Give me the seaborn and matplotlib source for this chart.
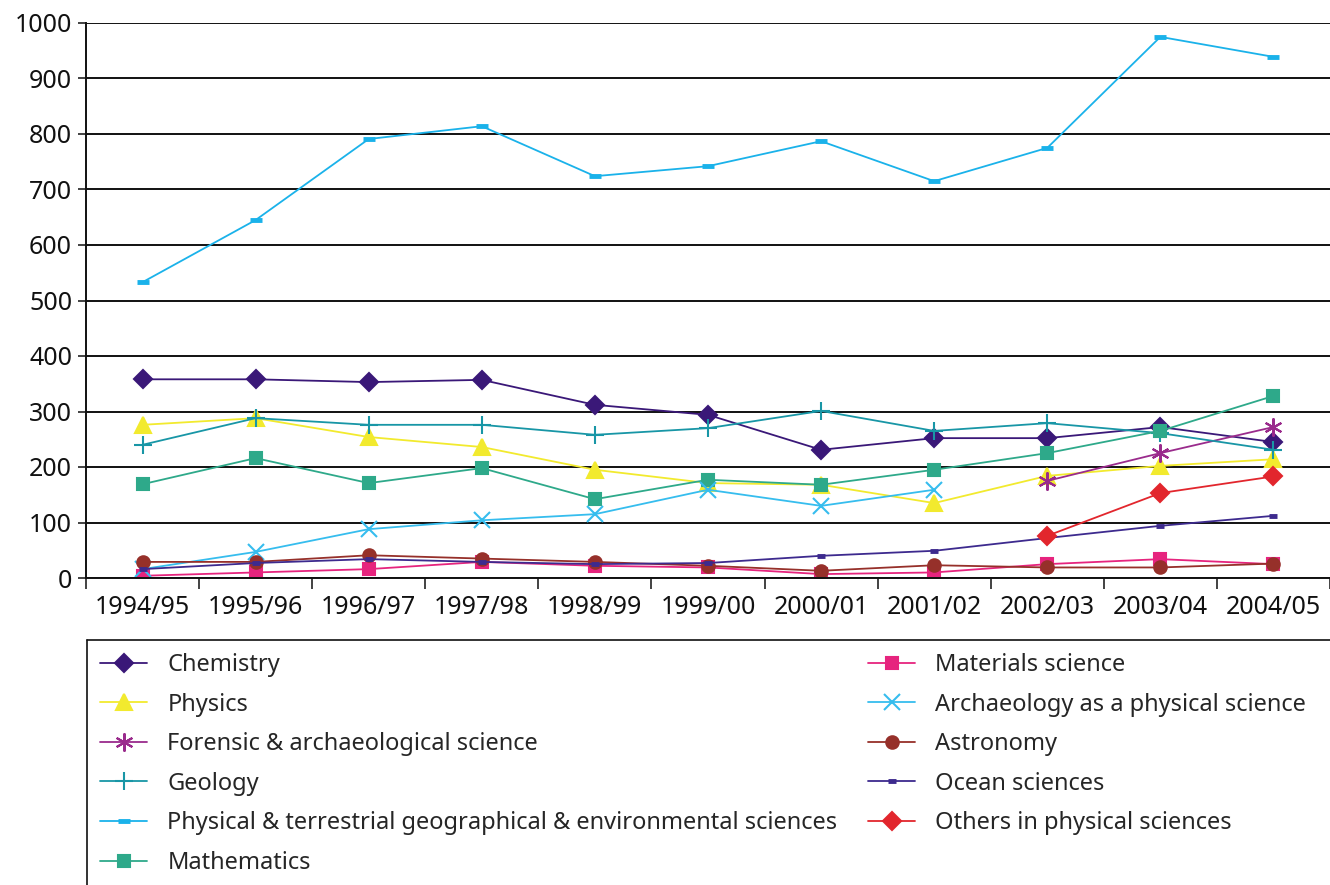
import numpy as np
import pandas as pd
import matplotlib
matplotlib.use('Agg')
import matplotlib.pyplot as plt
from matplotlib.lines import Line2D
import seaborn as sns

years = ['1994/95', '1995/96', '1996/97', '1997/98', '1998/99', '1999/00',
         '2000/01', '2001/02', '2002/03', '2003/04', '2004/05']

nan = np.nan
chemistry = [358, 358, 353, 357, 312, 294, 231, 252, 252, 272, 245]
physics = [276, 288, 254, 236, 195, 171, 168, 135, 184, 202, 214]
forensic = [nan, nan, nan, nan, nan, nan, nan, nan, 175, 225, 272]
geology = [240, 288, 276, 276, 258, 270, 301, 265, 279, 261, 231]
phys_terr = [533, 645, 791, 814, 724, 742, 787, 715, 775, 975, 939]
mathematics = [169, 216, 171, 198, 142, 177, 168, 195, 225, 265, 328]
materials = [4, 10, 16, 29, 22, 19, 7, 10, 25, 34, 25]
archaeology = [16, 47, 88, 104, 115, 159, 130, 159, nan, nan, nan]
astronomy = [29, 29, 41, 35, 29, 22, 13, 23, 19, 19, 26]
ocean = [16, 27, 34, 29, 25, 27, 40, 49, 72, 94, 112]
others = [nan, nan, nan, nan, nan, nan, nan, nan, 76, 153, 183]

# name, values, colour, marker, size, edge width
series = [
    ('Chemistry', chemistry, '#3a1878', 'D', 9, 1.5),
    ('Physics', physics, '#f2ea2e', '^', 11, 1.5),
    ('Forensic & archaeological science', forensic, '#9a2b8c', (6, 2, 0), 13, 1.5),
    ('Geology', geology, '#1896a6', '+', 13, 1.5),
    ('Physical & terrestrial geographical & environmental sciences', phys_terr, '#1ab2ea', '_', 9, 3.5),
    ('Mathematics', mathematics, '#2ea98a', 's', 9, 1.5),
    ('Materials science', materials, '#e6247e', 's', 9, 1.5),
    ('Archaeology as a physical science', archaeology, '#36bdee', 'x', 11, 1.5),
    ('Astronomy', astronomy, '#96302a', 'o', 9, 1.5),
    ('Ocean sciences', ocean, '#3d2a8e', '_', 6, 3.5),
    ('Others in physical sciences', others, '#e2262d', 'D', 9, 1.5),
]

sns.set_theme(style='white')
plt.rcParams['font.family'] = ['Noto Sans', 'DejaVu Sans']

fig = plt.figure(figsize=(13.3, 8.85), dpi=100)
ax = fig.add_axes([86 / 1330, 1 - 578 / 885, 1 - 86 / 1330, 555 / 885])

pos = np.arange(len(years))
for name, vals, color, mk, ms, mew in series:
    df = pd.DataFrame({'x': pos, 'y': vals}).dropna()
    sns.lineplot(data=df, x='x', y='y', ax=ax, color=color, marker=mk,
                 markersize=ms, markeredgecolor=color, markeredgewidth=mew,
                 linewidth=1.3, label=name, legend=False)

ax.set_xlim(-0.5, len(years) - 0.5)
ax.set_ylim(0, 1000)
ax.set_yticks(range(0, 1001, 100))
ax.set_xticks(pos)
ax.set_xticklabels(years)
ax.set_xticks(np.arange(-0.5, len(years), 1), minor=True)
ax.tick_params(axis='x', which='major', length=0, labelsize=18, pad=12, colors='#111111')
ax.tick_params(axis='x', which='minor', length=8, width=1.2, color='#222222', bottom=True)
ax.tick_params(axis='y', length=6, width=1.2, color='#222222', left=True, labelsize=18, pad=4,
               colors='#111111')
ax.set_xlabel('')
ax.set_ylabel('')
ax.grid(axis='y', color='#111111', linewidth=1.4)
ax.set_axisbelow(True)
for s in ['top', 'right']:
    ax.spines[s].set_visible(False)
ax.spines['left'].set_color('#111111')
ax.spines['left'].set_linewidth(1.4)
ax.spines['bottom'].set_color('#111111')
ax.spines['bottom'].set_linewidth(1.4)

# legend box runs off the right and bottom edges of the picture
handles, labels = ax.get_legend_handles_labels()
leg = fig.legend(handles, labels, loc='upper left', ncol=2,
                 bbox_to_anchor=(87 / 1330, 1 - 640 / 885),
                 fontsize=17, frameon=False,
                 handlelength=2.0, handletextpad=0.85, columnspacing=1.3,
                 labelspacing=0.66, borderpad=0.55, borderaxespad=0)
x0, y0 = 87 / 1330, 1 - 640 / 885
fig.add_artist(Line2D([x0, 1.0], [y0, y0], transform=fig.transFigure, color='#111111', lw=1.2))
fig.add_artist(Line2D([x0, x0], [y0, 0.0], transform=fig.transFigure, color='#111111', lw=1.2))

fig.savefig('out.png', dpi=100)
